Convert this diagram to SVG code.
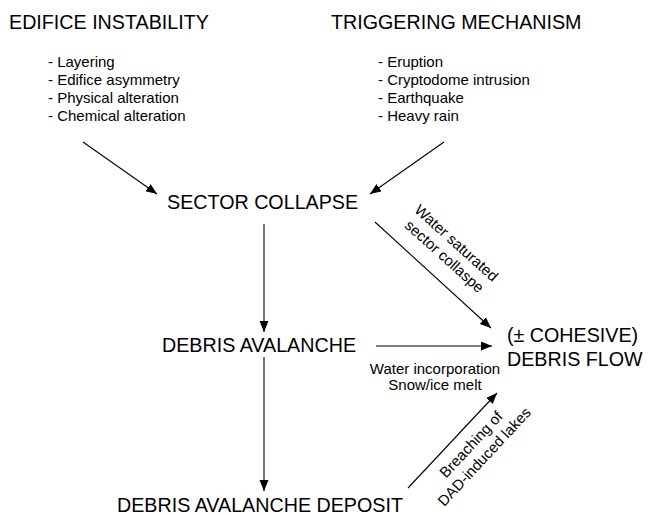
<svg xmlns="http://www.w3.org/2000/svg" width="648" height="515" viewBox="0 0 648 515">
<defs>
<marker id="ah" markerUnits="userSpaceOnUse" markerWidth="12" markerHeight="10" refX="11" refY="4.5" orient="auto">
<path d="M0,0 L11,4.5 L0,9 z" fill="#000"/>
</marker>
<style>
.big{font-family:"Liberation Sans",Arial,sans-serif;font-size:19.7px;fill:#000}
.sm{font-family:"Liberation Sans",Arial,sans-serif;font-size:15px;fill:#000}
.c{text-anchor:middle}
.ln{stroke:#000;stroke-width:1.1;fill:none;marker-end:url(#ah)}
</style>
</defs>
<rect width="648" height="515" fill="#fff"/>
<g id="edifice">
<text class="big" x="9" y="29">EDIFICE INSTABILITY</text>
<text class="sm" x="48" y="67">- Layering</text>
<text class="sm" x="48" y="85">- Edifice asymmetry</text>
<text class="sm" x="48" y="103">- Physical alteration</text>
<text class="sm" x="48" y="121">- Chemical alteration</text>
</g>
<g id="trigger">
<text class="big" x="331" y="29">TRIGGERING MECHANISM</text>
<text class="sm" x="378" y="67">- Eruption</text>
<text class="sm" x="378" y="85">- Cryptodome intrusion</text>
<text class="sm" x="378" y="103">- Earthquake</text>
<text class="sm" x="378" y="121">- Heavy rain</text>
</g>
<g id="sector"><text class="big" x="167" y="209">SECTOR COLLAPSE</text></g>
<g id="avalanche"><text class="big" x="162" y="352">DEBRIS AVALANCHE</text></g>
<g id="deposit"><text class="big" x="117" y="512">DEBRIS AVALANCHE DEPOSIT</text></g>
<g id="debrisflow">
<text class="big" x="507" y="342">(± COHESIVE)</text>
<text class="big" x="507" y="366">DEBRIS FLOW</text>
</g>
<g id="connectors">
<line class="ln" x1="83" y1="142" x2="157" y2="194"/>
<line class="ln" x1="444" y1="142" x2="370" y2="194"/>
<line class="ln" x1="264" y1="224" x2="264" y2="332"/>
<line class="ln" x1="264" y1="357" x2="264" y2="491"/>
<line class="ln" x1="376" y1="346" x2="492" y2="346"/>
<line class="ln" x1="375" y1="222" x2="491" y2="328"/>
<line class="ln" x1="408" y1="488" x2="497" y2="393"/>
<g transform="translate(451,249) rotate(42)">
<text class="sm c" x="0" y="-3">Water saturated</text>
<text class="sm c" x="0" y="15">sector collaspe</text>
</g>
<text class="sm c" x="435" y="374">Water incorporation</text>
<text class="sm c" x="435" y="390">Snow/ice melt</text>
<g transform="translate(477,450) rotate(-47)">
<text class="sm c" x="0" y="-3">Breaching of</text>
<text class="sm c" x="0" y="15">DAD-induced lakes</text>
</g>
</g>
</svg>
